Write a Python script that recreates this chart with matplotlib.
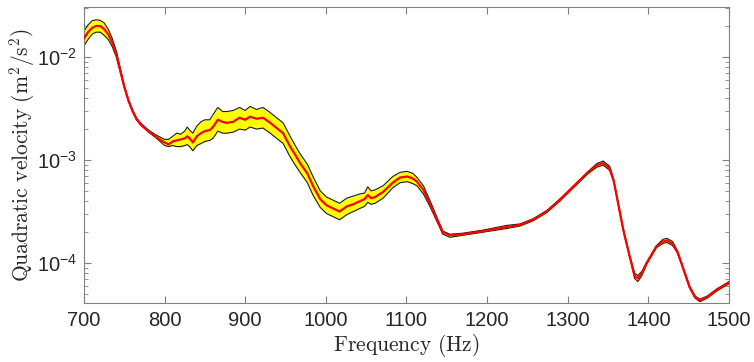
import numpy as np
import matplotlib
matplotlib.use("Agg")
import matplotlib.pyplot as plt

# frequency samples (Hz) and log10 of quadratic velocity (m^2/s^2)
freq = [700, 705, 710, 715, 720, 725, 730, 735, 740, 745, 750, 755, 760, 765, 770, 780, 790,
        800, 805, 810, 815, 820, 825, 828, 831, 835, 840, 845, 850, 856, 860, 866, 872, 877,
        885, 893, 900, 906, 914, 922, 931, 939, 947, 955, 962, 968, 977, 984, 993,
        1001, 1009, 1017, 1026, 1034, 1042, 1048, 1052, 1056, 1061, 1071, 1083, 1092,
        1101, 1108, 1113, 1121, 1129, 1138, 1145, 1154, 1170, 1195, 1224, 1241, 1257,
        1274, 1290, 1307, 1324, 1336, 1344, 1352, 1357, 1361, 1365, 1369, 1377, 1383,
        1387, 1392, 1398, 1410, 1418, 1423, 1430, 1436, 1441, 1451, 1458, 1464, 1473,
        1485, 1500]

mean_log = [-1.82, -1.76, -1.72, -1.70, -1.70, -1.73, -1.78, -1.86, -1.97, -2.13, -2.29, -2.42,
            -2.52, -2.60, -2.65, -2.72, -2.78,
            -2.83, -2.85, -2.82, -2.81, -2.80, -2.79, -2.77, -2.79, -2.83, -2.77, -2.74, -2.72,
            -2.71, -2.68, -2.61, -2.63, -2.64,
            -2.63, -2.59, -2.61, -2.58, -2.60, -2.59, -2.64, -2.69, -2.74, -2.86, -2.95, -3.03,
            -3.13, -3.25, -3.38,
            -3.44, -3.47, -3.50, -3.45, -3.43, -3.40, -3.38, -3.34, -3.37, -3.36, -3.31, -3.22,
            -3.17,
            -3.16, -3.18, -3.21, -3.29, -3.42, -3.58, -3.70, -3.73, -3.72, -3.69, -3.65, -3.63,
            -3.58,
            -3.50, -3.39, -3.26, -3.13, -3.05, -3.03, -3.08, -3.20, -3.36, -3.52, -3.68, -3.94,
            -4.12,
            -4.15, -4.10, -4.00, -3.84, -3.79, -3.78, -3.81, -3.89, -4.00, -4.23, -4.33, -4.36,
            -4.33,
            -4.26, -4.19]

upper_log = [-1.75, -1.69, -1.65, -1.64, -1.645, -1.67, -1.73, -1.82, -1.94, -2.11, -2.28, -2.41,
             -2.51, -2.59, -2.64, -2.71, -2.76,
             -2.80, -2.80, -2.77, -2.74, -2.75, -2.72, -2.68, -2.71, -2.74, -2.67, -2.63, -2.61,
             -2.61, -2.56, -2.49, -2.53, -2.53,
             -2.52, -2.49, -2.52, -2.48, -2.51, -2.49, -2.54, -2.59, -2.64, -2.76, -2.86, -2.94,
             -3.04, -3.16, -3.30,
             -3.36, -3.39, -3.42, -3.37, -3.35, -3.33, -3.32, -3.26, -3.30, -3.29, -3.25, -3.16,
             -3.12,
             -3.11, -3.13, -3.17, -3.25, -3.39, -3.56, -3.69, -3.72, -3.71, -3.68, -3.635, -3.62,
             -3.57,
             -3.49, -3.38, -3.25, -3.12, -3.035, -3.01, -3.06, -3.19, -3.35, -3.51, -3.67, -3.93,
             -4.10,
             -4.12, -4.08, -3.99, -3.83, -3.77, -3.76, -3.79, -3.88, -3.99, -4.22, -4.32, -4.35,
             -4.32,
             -4.25, -4.18]

lower_log = [-1.89, -1.83, -1.78, -1.76, -1.76, -1.79, -1.83, -1.90, -2.00, -2.15, -2.30, -2.43,
             -2.53, -2.61, -2.66, -2.73, -2.79,
             -2.86, -2.87, -2.86, -2.87, -2.87, -2.86, -2.85, -2.87, -2.91, -2.86, -2.84, -2.82,
             -2.81, -2.79, -2.72, -2.74, -2.74,
             -2.73, -2.70, -2.71, -2.68, -2.70, -2.69, -2.74, -2.79, -2.84, -2.96, -3.05, -3.12,
             -3.22, -3.34, -3.46,
             -3.52, -3.55, -3.58, -3.53, -3.50, -3.47, -3.45, -3.41, -3.43, -3.42, -3.37, -3.27,
             -3.22,
             -3.21, -3.23, -3.25, -3.33, -3.45, -3.60, -3.72, -3.75, -3.73, -3.70, -3.665, -3.64,
             -3.59,
             -3.51, -3.40, -3.27, -3.14, -3.07, -3.05, -3.10, -3.21, -3.37, -3.53, -3.69, -3.95,
             -4.15,
             -4.18, -4.12, -4.01, -3.85, -3.81, -3.80, -3.83, -3.90, -4.01, -4.24, -4.34, -4.375,
             -4.34,
             -4.27, -4.20]

freq = np.array(freq)
mean = 10.0 ** np.array(mean_log)
upper = 10.0 ** np.array(upper_log)
lower = 10.0 ** np.array(lower_log)

plt.rcParams["font.family"] = ["Liberation Sans", "DejaVu Sans"]
plt.rcParams["mathtext.fontset"] = "cm"

fig = plt.figure(figsize=(7.54, 3.62), dpi=100)
ax = fig.add_axes([0.1114, 0.163, 0.8554, 0.8177])

ax.fill_between(freq, lower, upper, color="#ffff00", linewidth=0, zorder=1)
ax.plot(freq, upper, color="#1a1a1a", linewidth=0.8, zorder=2)
ax.plot(freq, lower, color="#1a1a1a", linewidth=0.8, zorder=2)
ax.plot(freq, mean, color="#ff0000", linewidth=1.6, zorder=3)

ax.set_yscale("log")
ax.set_xlim(700, 1500)
ax.set_ylim(4.1e-5, 3.05e-2)
ax.set_xticks(np.arange(700, 1501, 100))

ax.tick_params(which="both", direction="in", top=True, right=True, colors="#808080",
               labelcolor="#262626", labelsize=14.5)
ax.tick_params(which="major", length=5)
ax.tick_params(which="minor", length=3)
ax.tick_params(axis="x", pad=6)
ax.tick_params(axis="y", pad=5)
for s in ax.spines.values():
    s.set_color("#808080")
    s.set_linewidth(0.8)

ax.set_xlabel(r"$\mathrm{Frequency\ (Hz)}$", fontsize=15.5, color="#262626", labelpad=1)
ax.set_ylabel(r"$\mathrm{Quadratic\ velocity\ (m^2/s^2)}$", fontsize=15.5, color="#262626",
              labelpad=0)

fig.savefig("out.png", dpi=100)
